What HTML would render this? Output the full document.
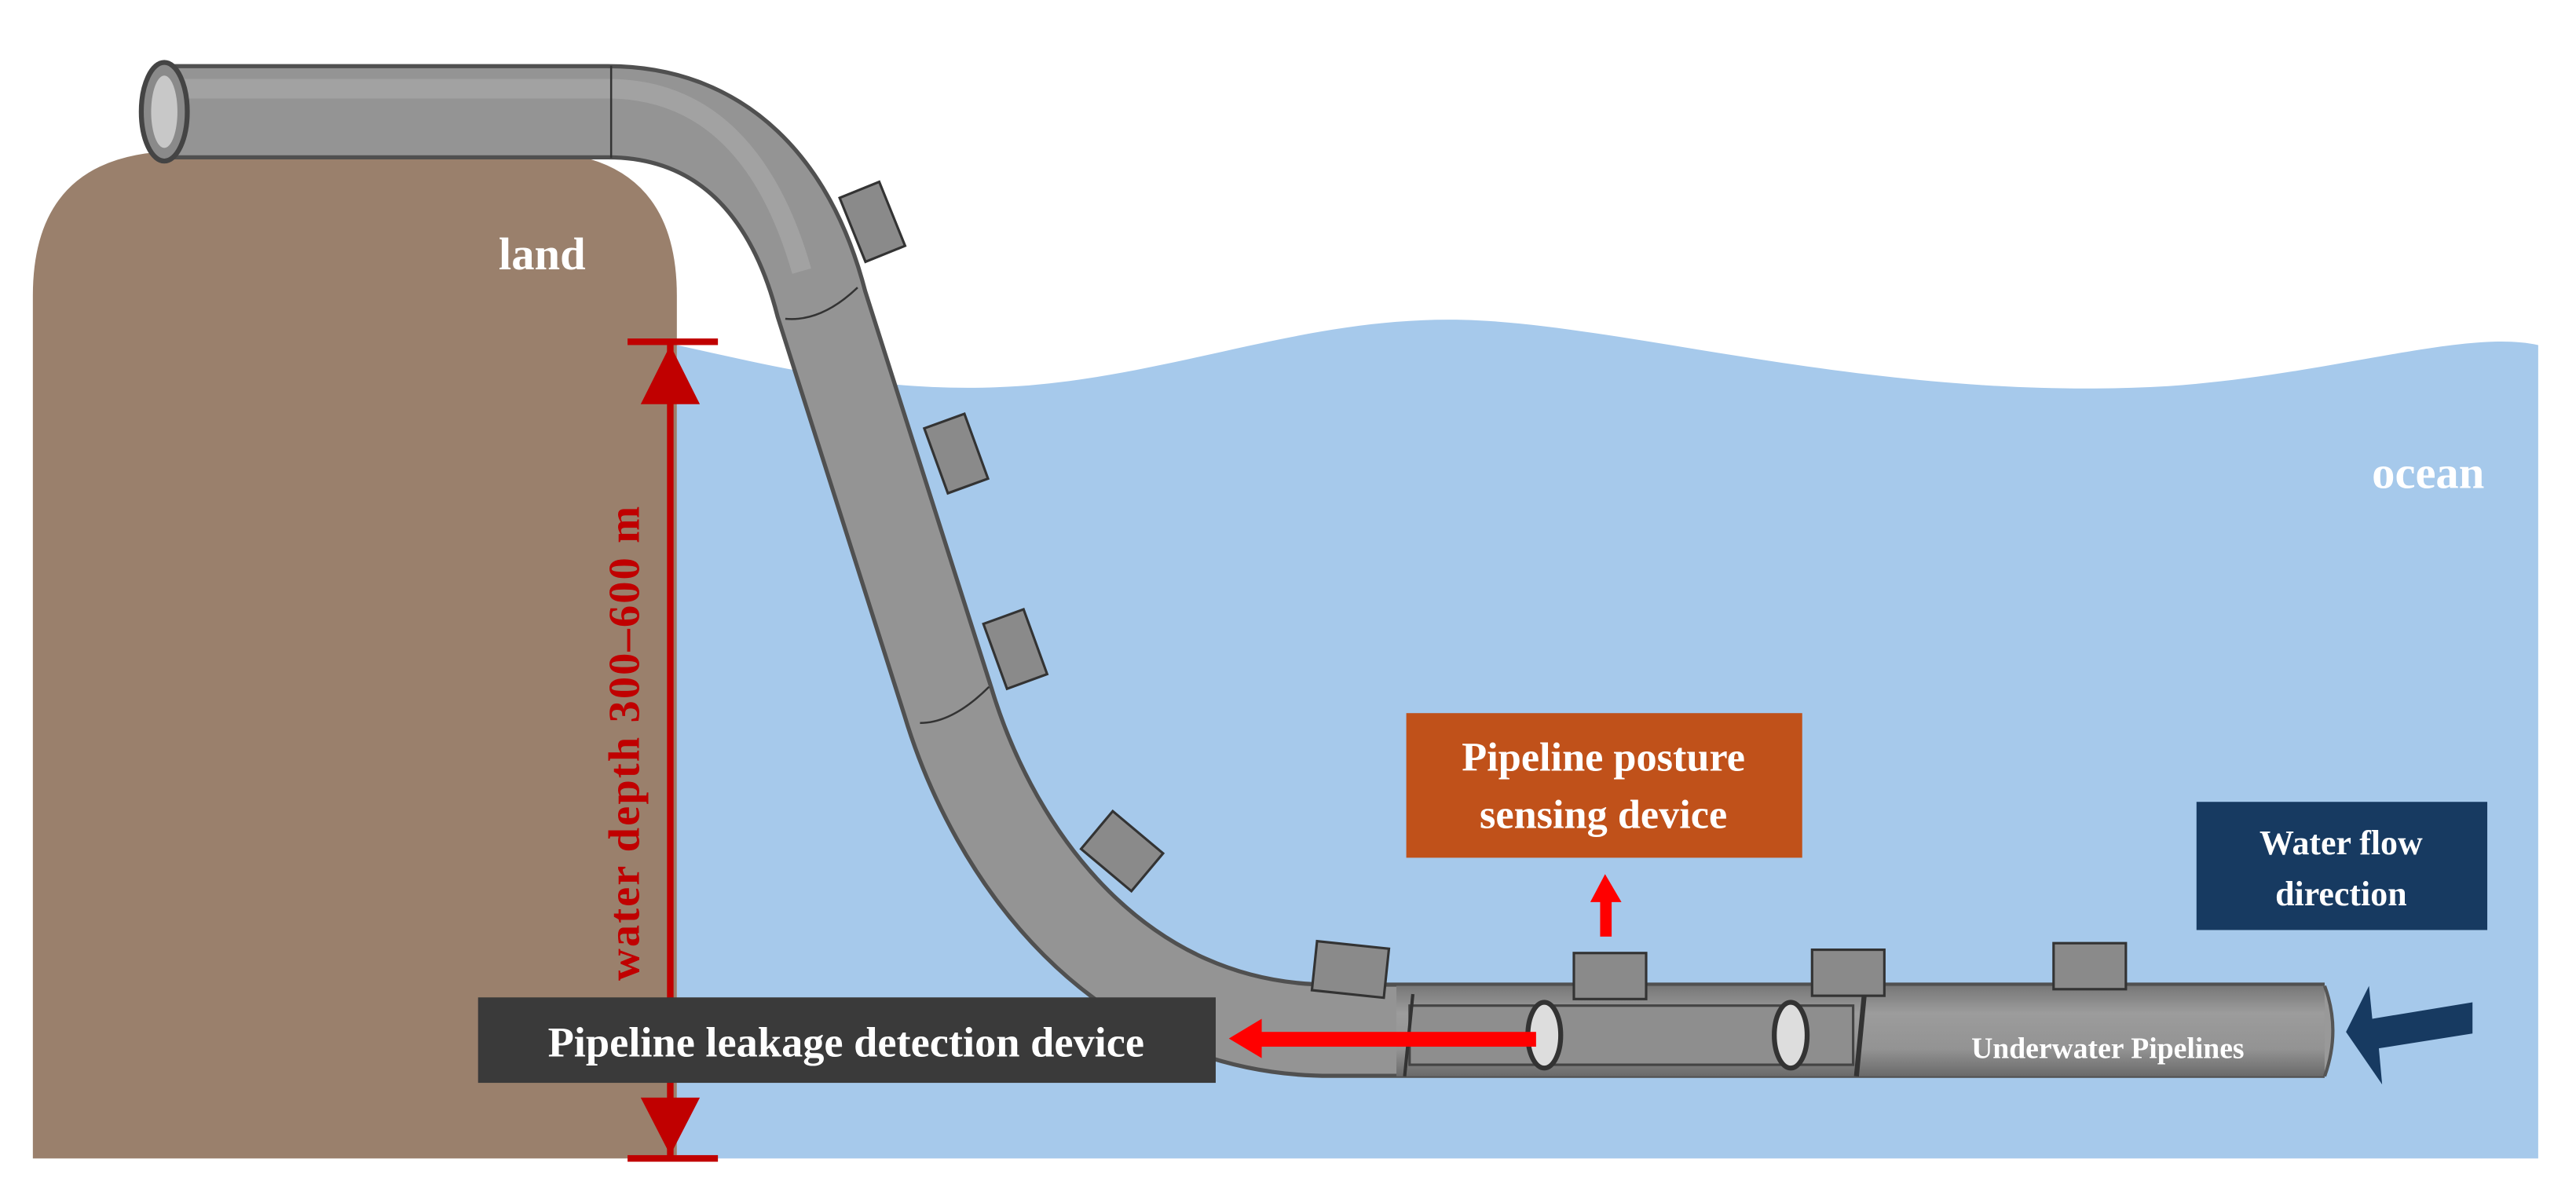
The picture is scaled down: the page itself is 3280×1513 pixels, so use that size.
<!DOCTYPE html>
<html><head><meta charset="utf-8"><style>
html,body{margin:0;padding:0;background:#fff;}
svg{display:block}
text{font-family:"Liberation Serif",serif;font-weight:bold;}
</style></head><body>
<svg width="3280" height="1513" viewBox="0 0 1568 723" preserveAspectRatio="none" xmlns="http://www.w3.org/2000/svg">
<defs>
<linearGradient id="pv" x1="0" y1="0" x2="0" y2="1">
<stop offset="0" stop-color="#777"/><stop offset="0.3" stop-color="#9c9c9c"/><stop offset="0.7" stop-color="#939393"/><stop offset="1" stop-color="#6a6a6a"/>
</linearGradient>
</defs>
<rect width="1568" height="723" fill="#fff"/>
<path d="M412,210 C480,225 540,240 620,235 C720,228 800,190 900,195 C1000,200 1150,245 1320,235 C1420,228 1500,200 1545,210 L1545,705 L412,705 Z" fill="#a6c9eb"/>
<path d="M20,705 L20,180 Q20,92 110,92 L322,92 Q412,92 412,180 L412,705 Z" fill="#9a806c"/>
<!-- pipe -->
<path id="pp" d="M100,68 L370,68 C440,68 482,115 500,185 L577,427 C605,520 680,627 810,627 L1415,627" fill="none" stroke="#505050" stroke-width="58"/>
<path d="M100,68 L370,68 C440,68 482,115 500,185 L577,427 C605,520 680,627 810,627 L1415,627" fill="none" stroke="#949494" stroke-width="53"/>
<path d="M100,54 L370,54 C430,54 468,95 488,165" fill="none" stroke="#a8a8a8" stroke-width="12" opacity="0.7"/>
<rect x="850" y="600" width="565" height="55" fill="url(#pv)"/>
<path d="M1415,600 Q1425,627 1415,655" fill="#999" stroke="#555" stroke-width="2"/>
<!-- seams -->
<g stroke="#333" stroke-width="1.2" fill="none">
<line x1="372" y1="40" x2="372" y2="96"/>
<path d="M478,194 Q500,196 522,175"/>
<path d="M560,440 Q580,440 602,418"/>
</g>
<rect x="858" y="612" width="270" height="36" fill="#8e8e8e" stroke="#444" stroke-width="1.5"/>
<ellipse cx="940" cy="630" rx="10" ry="20" fill="#ddd" stroke="#333" stroke-width="3"/>
<ellipse cx="1090" cy="630" rx="10" ry="20" fill="#ddd" stroke="#333" stroke-width="3"/>
<line x1="1135" y1="603" x2="1130" y2="655" stroke="#333" stroke-width="3"/>
<line x1="860" y1="605" x2="855" y2="655" stroke="#333" stroke-width="2"/>
<ellipse cx="100" cy="68" rx="14" ry="30" fill="#8a8a8a" stroke="#444" stroke-width="3"/>
<ellipse cx="100" cy="68" rx="8" ry="22" fill="#c8c8c8"/>
<!-- blocks -->
<g fill="#8a8a8a" stroke="#333" stroke-width="1.5">
<rect x="518" y="114" width="26" height="42" transform="rotate(-22 531 135)"/>
<rect x="569" y="255" width="26" height="42" transform="rotate(-20 582 276)"/>
<rect x="605" y="374" width="26" height="42" transform="rotate(-20 618 395)"/>
<rect x="668" y="498" width="30" height="40" transform="rotate(-50 683 518)"/>
<rect x="800" y="575" width="44" height="30" transform="rotate(6 822 590)"/>
<rect x="958" y="580" width="44" height="28"/>
<rect x="1103" y="578" width="44" height="28"/>
<rect x="1250" y="574" width="44" height="28"/>
</g>
<g fill="#c00000" stroke="none">
<rect x="406" y="208" width="4" height="497"/>
<rect x="382" y="206" width="55" height="4"/>
<rect x="382" y="703" width="55" height="4"/>
<polygon points="408,210 390,246 426,246"/>
<polygon points="408,703 390,668 426,668"/>
</g>
<text transform="translate(389,452) rotate(-90)" text-anchor="middle" font-size="27" fill="#c00000" letter-spacing="1">water depth 300–600 m</text>
<text x="330" y="164" text-anchor="middle" font-size="28" fill="#fff">land</text>
<text x="1478" y="297" text-anchor="middle" font-size="28" fill="#fff">ocean</text>
<rect x="291" y="607" width="449" height="52" fill="#3a3a3a"/>
<text x="515" y="643" text-anchor="middle" font-size="26" fill="#fff">Pipeline leakage detection device</text>
<rect x="856" y="434" width="241" height="88" fill="#c0511a"/>
<text x="976" y="469" text-anchor="middle" font-size="25" fill="#fff">Pipeline posture</text>
<text x="976" y="504" text-anchor="middle" font-size="25" fill="#fff">sensing device</text>
<rect x="1337" y="488" width="177" height="78" fill="#173a61"/>
<text x="1425" y="520" text-anchor="middle" font-size="21" fill="#fff">Water flow</text>
<text x="1425" y="551" text-anchor="middle" font-size="21" fill="#fff">direction</text>
<text x="1283" y="644" text-anchor="middle" font-size="18" fill="#fff">Underwater Pipelines</text>
<rect x="765" y="628" width="170" height="9" fill="#f00"/>
<polygon points="748,632 768,620 768,644" fill="#f00"/>
<rect x="974" y="548" width="7" height="22" fill="#f00"/>
<polygon points="977,532 968,549 987,549" fill="#f00"/>
<polygon points="1505,610 1505,629 1448,638 1450,660 1428,628 1442,600 1444,620" fill="#173a61"/>
</svg>
</body></html>
